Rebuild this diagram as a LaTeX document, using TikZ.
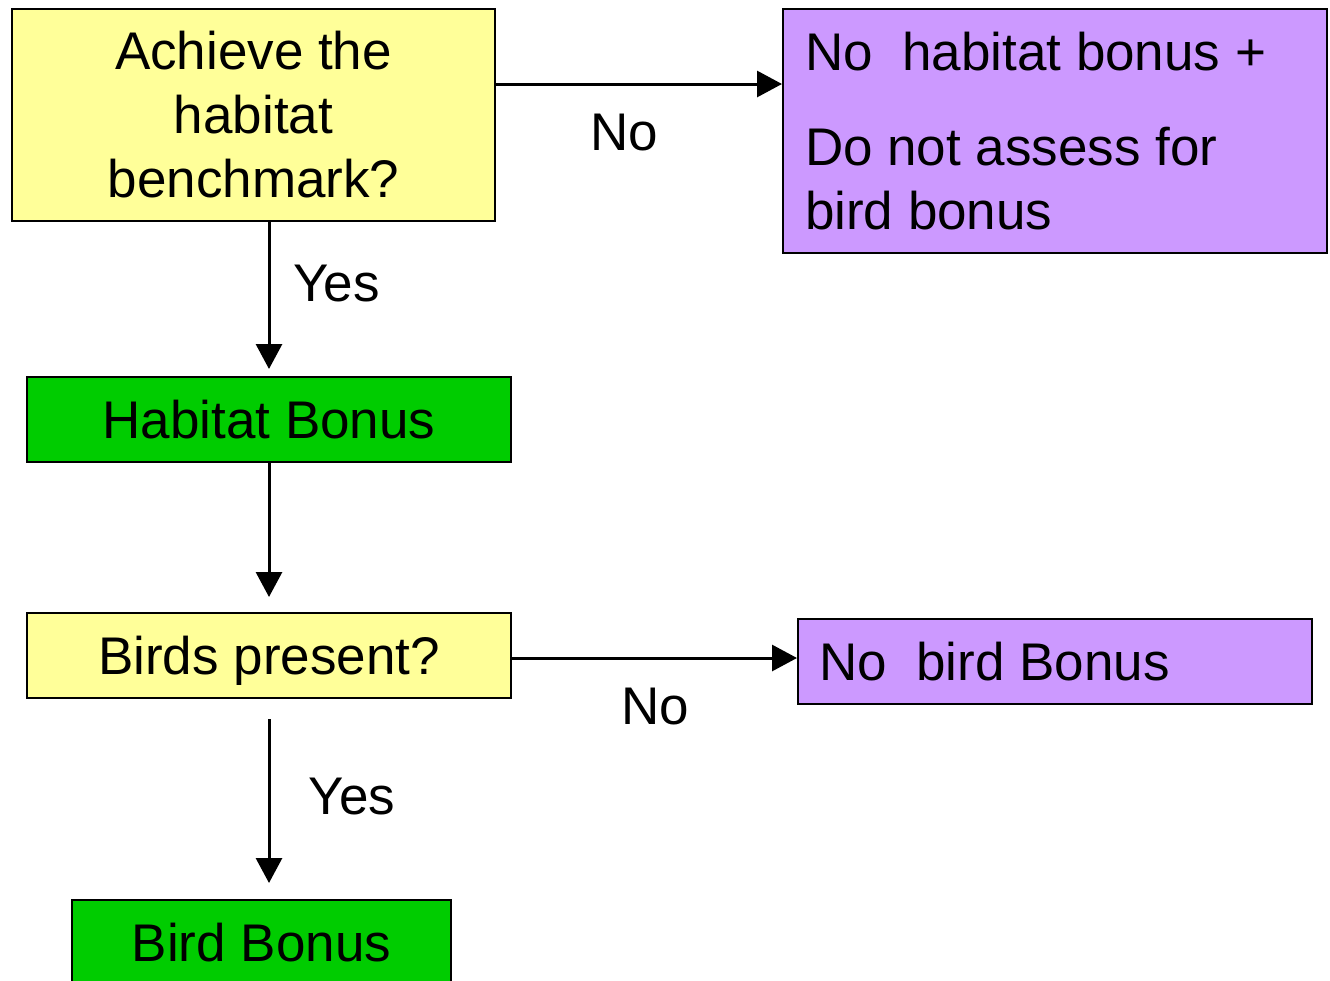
\documentclass[tikz,border=0pt]{standalone}
\usepackage{fontspec}
\setmainfont{Liberation Sans}
\usetikzlibrary{arrows.meta}
\definecolor{qyellow}{HTML}{FFFF99}
\definecolor{rpurple}{HTML}{CC99FF}
\definecolor{bgreen}{HTML}{00CC00}
\tikzset{
  boxbase/.style={draw=black, line width=2pt, font=\fontsize{53}{64}\selectfont, inner sep=0pt},
  question/.style={boxbase, fill=qyellow, align=flush center},
  result/.style={boxbase, fill=rpurple, align=flush left},
  bonus/.style={boxbase, fill=bgreen, align=flush center},
  lbl/.style={font=\fontsize{53}{64}\selectfont, inner sep=0pt, anchor=base},
  arr/.style={line width=3pt, -{Triangle[length=25pt,width=26pt]}}
}
\begin{document}
\begin{tikzpicture}[x=1pt,y=-1pt]
\useasboundingbox (0,0) rectangle (1330,980);
\clip (0,0) rectangle (1330,980);
\fill[white] (0,0) rectangle (1330,980);

\node[question, minimum width=483pt, minimum height=212pt] (q1) at (253.5,115) {Achieve the\\habitat\\benchmark?};
\node[result, minimum width=544pt, minimum height=244pt, text width=500pt, inner xsep=22pt] (r1) at (1055,131)
  {No\ \ habitat bonus +\\[31pt]Do not assess for\\bird bonus};
\node[bonus, minimum width=484pt, minimum height=85pt, text depth=0pt] (hb) at (269,419.5) {Habitat Bonus};
\node[question, minimum width=484pt, minimum height=85pt, text depth=0pt] (bp) at (269,655.5) {Birds present?};
\node[result, minimum width=514pt, minimum height=85pt, text width=472pt, inner xsep=21pt, text depth=0pt] (nb) at (1055,661.5) {No\ \ bird Bonus};
\node[bonus, minimum width=379pt, minimum height=85pt, text depth=0pt] (bb) at (261.5,942.5) {Bird Bonus};

\coordinate (a1) at ([yshift=31pt]q1.east);
\draw[arr] (a1) -- (a1 -| r1.west);
\node[lbl] (no1) at (624.5,150) {No};

\draw[arr, shorten >=7pt] (hb.north |- q1.south) -- (hb.north);
\node[lbl] (yes1) at (336.5,301) {Yes};

\draw[arr, shorten >=15pt] (hb.south) -- (bp.north);

\coordinate (a2) at ([yshift=-2.5pt]bp.east);
\draw[arr] (a2) -- (a2 -| nb.west);
\node[lbl] (no2) at (655,724) {No};

\draw[arr, shorten <=20pt, shorten >=16pt] (bp.south) -- (bp.south |- bb.north);
\node[lbl] (yes2) at (352,814) {Yes};
\end{tikzpicture}
\end{document}
